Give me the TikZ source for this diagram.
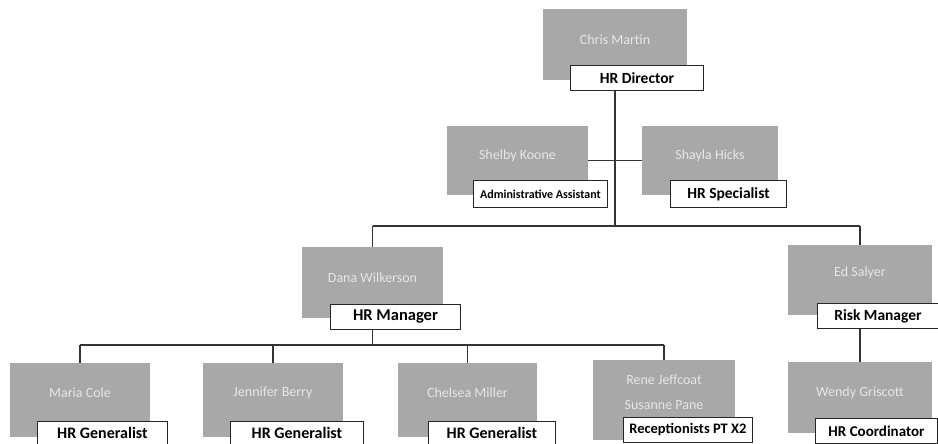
\documentclass[tikz,border=0pt]{standalone}
\usepackage{fontspec}
\setmainfont{Carlito}
\begin{document}
\begin{tikzpicture}[x=1pt,y=-1pt,
  pbox/.style={draw=none,fill=boxgray,minimum width=#1,inner sep=0pt},
  pbox/.default=141pt,
  nm/.style={text=namegray,font=\fontsize{14}{15}\selectfont,inner sep=0pt,align=center},
  ttl/.style={draw=black!85,line width=0.9pt,fill=white,anchor=north west,inner sep=0pt,minimum height=25pt,font=\bfseries\fontsize{15.5}{17}\selectfont},
  gen/.style={font=\bfseries\fontsize{16}{17}\selectfont},
  conn/.style={draw=black!80,line width=1.3pt}
]
\definecolor{boxgray}{RGB}{168,168,168}
\definecolor{namegray}{RGB}{230,230,230}
\useasboundingbox (0,0) rectangle (938,444);
% gray boxes
\node[pbox=144pt,minimum height=71pt] (chris) at (615,44.5) {};
\node[pbox=141pt,minimum height=69pt] (shelby) at (517.5,160.5) {};
\node[pbox=136pt,minimum height=69pt] (shayla) at (710,160.5) {};
\node[pbox=141pt,minimum height=71pt] (dana) at (372.5,282.5) {};
\node[pbox=144pt,minimum height=70pt] (ed) at (860,280) {};
\node[pbox=140pt,minimum height=74pt] (maria) at (80,400) {};
\node[pbox=140pt,minimum height=74pt] (jen) at (273,400) {};
\node[pbox=139pt,minimum height=74pt] (chel) at (467.5,400) {};
\node[pbox=142pt,minimum height=80pt] (rene) at (664,400) {};
\node[pbox=144pt,minimum height=71pt] (wendy) at (860,397.5) {};
% names
\node[nm] (chrisN) at ([yshift=5pt]chris.center) {Chris Martin};
\node[nm] (shelbyN) at ([yshift=5pt]shelby.center) {Shelby Koone};
\node[nm] (shaylaN) at ([yshift=5pt]shayla.center) {Shayla Hicks};
\node[nm] (danaN) at ([yshift=5pt]dana.center) {Dana Wilkerson};
\node[nm] (edN) at ([yshift=7pt]ed.center) {Ed Salyer};
\node[nm] (mariaN) at ([yshift=7pt]maria.center) {Maria Cole};
\node[nm] (jenN) at ([yshift=7pt]jen.center) {Jennifer Berry};
\node[nm] (chelN) at ([yshift=7pt]chel.center) {Chelsea Miller};
\node[nm] (reneN) at (664,380) {Rene Jeffcoat};
\node[nm] (susN) at (664,405) {Susanne Pane};
\node[nm] (wendyN) at ([yshift=5pt]wendy.center) {Wendy Griscott};
% titles
\node[ttl,minimum width=133pt] (dirT) at (570,65) {HR Director};
\node[ttl,minimum width=134pt,minimum height=27pt,font=\bfseries\fontsize{12}{13}\selectfont] (admT) at (473,180) {Administrative Assistant};
\node[ttl,minimum width=116pt,minimum height=27pt] (specT) at (670,180) {HR Specialist};
\node[ttl,minimum width=130pt,font=\bfseries\fontsize{16.5}{18}\selectfont] (mgrT) at (330,304) {HR Manager};
\node[ttl,minimum width=121pt] (riskT) at (817,303) {Risk Manager};
\node[ttl,gen,minimum width=130pt,minimum height=23pt] (mariaT) at (37,421) {HR Generalist};
\node[ttl,gen,minimum width=133pt,minimum height=23pt] (jenT) at (230,421) {HR Generalist};
\node[ttl,gen,minimum width=127pt,minimum height=23pt] (chelT) at (428,421) {HR Generalist};
\node[ttl,minimum width=129pt,minimum height=25pt,font=\bfseries\fontsize{14.5}{16}\selectfont] (reneT) at (623,417) {Receptionists PT X2};
\node[ttl,minimum width=122pt,minimum height=25pt,font=\bfseries\fontsize{15}{16}\selectfont] (wendyT) at (815,418) {HR Coordinator};
% connectors
\coordinate (jA) at (615,226);
\coordinate (jL) at (372.5,226);
\coordinate (jR) at (860,226);
\coordinate (bA) at (372.5,345);
\coordinate (bL) at (80,345);
\coordinate (bR) at (664,345);
\draw[conn] (chris.center |- dirT.south) -- (jA);
\draw[conn] (shelby.east) -- (shayla.west);
\draw[conn] (jL) -- (jR);
\draw[conn] (jL) -- (dana.north);
\draw[conn] (jR) -- (ed.north);
\draw[conn] (dana.center |- mgrT.south) -- (bA);
\draw[conn] (bL) -- (bR);
\draw[conn] (bL) -- (maria.north);
\draw[conn] (jen.north |- bL) -- (jen.north);
\draw[conn] (chel.north |- bL) -- (chel.north);
\draw[conn] (bR) -- (rene.north);
\draw[conn] (ed.center |- riskT.south) -- (wendy.north);
\end{tikzpicture}
\end{document}
